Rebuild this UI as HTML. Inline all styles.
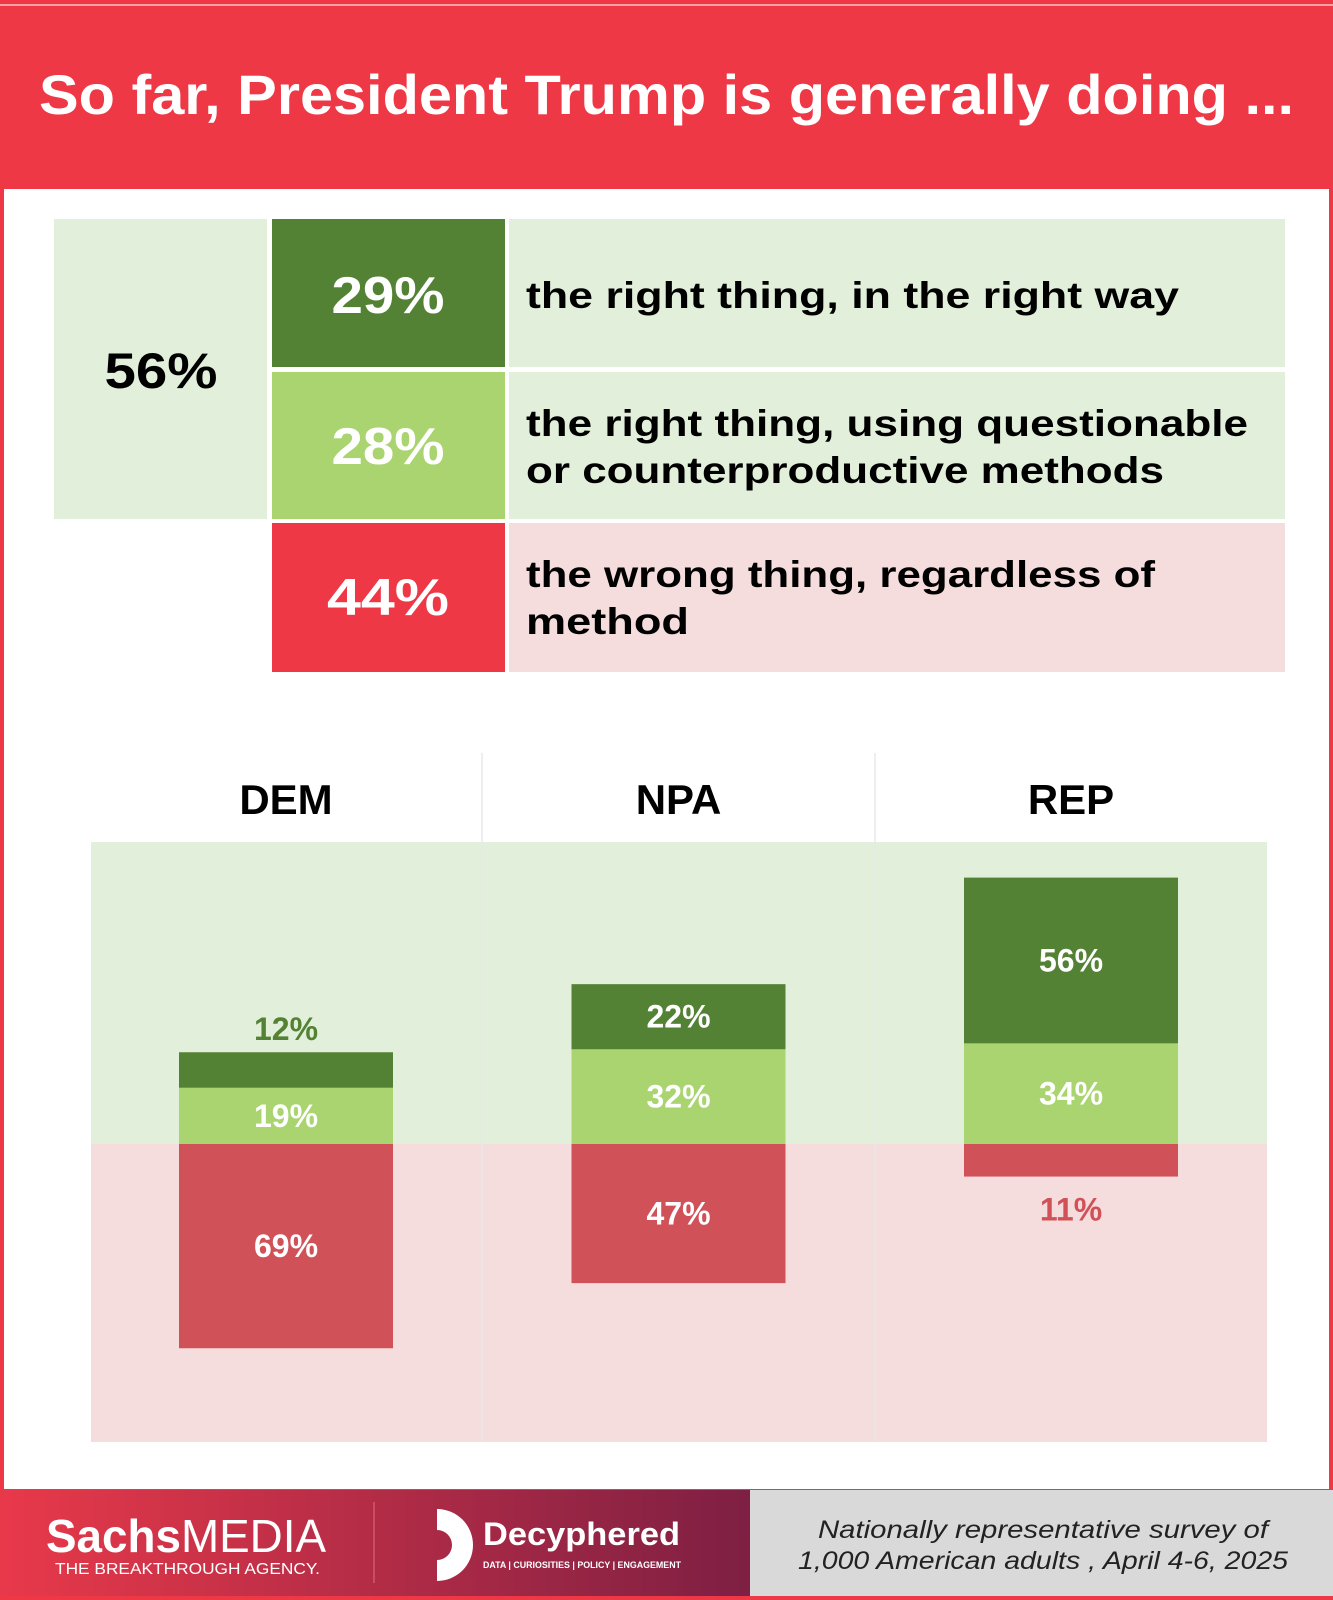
<!DOCTYPE html>
<html><head><meta charset="utf-8"><style>
html,body{margin:0;padding:0;background:#fff}
svg{display:block}
text{font-family:"Liberation Sans",sans-serif}
</style></head><body>
<svg id="chart" width="1333" height="1600" viewBox="0 0 1333 1600">
<rect x="0" y="0" width="1333" height="1600" fill="#ef3845"/>
<rect x="4" y="189" width="1325" height="1300" fill="#ffffff"/>
<rect x="0" y="4" width="1333" height="2" fill="#f7a0a6"/>
<text x="39" y="114" font-size="56" font-weight="bold" fill="#fff" textLength="1255" lengthAdjust="spacingAndGlyphs">So far, President Trump is generally doing ...</text>

<g>
<rect x="54" y="219" width="213" height="300" fill="#e2efda"/>
<text x="161" y="388" font-size="50" font-weight="bold" text-anchor="middle" fill="#000" textLength="113" lengthAdjust="spacingAndGlyphs">56%</text>
<rect x="272" y="219" width="233" height="148" fill="#548235"/>
<text x="388" y="313" font-size="52" font-weight="bold" text-anchor="middle" fill="#fff" textLength="113" lengthAdjust="spacingAndGlyphs">29%</text>
<rect x="509" y="219" width="776" height="148" fill="#e2efda"/>
<text x="526" y="308" font-size="37" font-weight="bold" fill="#000" textLength="653" lengthAdjust="spacingAndGlyphs">the right thing, in the right way</text>
<rect x="272" y="372" width="233" height="147" fill="#a9d46f"/>
<text x="388" y="464" font-size="52" font-weight="bold" text-anchor="middle" fill="#fff" textLength="113" lengthAdjust="spacingAndGlyphs">28%</text>
<rect x="509" y="372" width="776" height="147" fill="#e2efda"/>
<text x="526" y="436" font-size="37" font-weight="bold" fill="#000" textLength="722" lengthAdjust="spacingAndGlyphs">the right thing, using questionable</text>
<text x="526" y="483" font-size="37" font-weight="bold" fill="#000" textLength="638" lengthAdjust="spacingAndGlyphs">or counterproductive methods</text>
<rect x="272" y="523" width="233" height="149" fill="#ef3845"/>
<text x="388" y="615" font-size="52" font-weight="bold" text-anchor="middle" fill="#fff" textLength="122" lengthAdjust="spacingAndGlyphs">44%</text>
<rect x="509" y="523" width="776" height="149" fill="#f5dcdd"/>
<text x="526" y="587" font-size="37" font-weight="bold" fill="#000" textLength="629" lengthAdjust="spacingAndGlyphs">the wrong thing, regardless of</text>
<text x="526" y="634" font-size="37" font-weight="bold" fill="#000" textLength="163" lengthAdjust="spacingAndGlyphs">method</text>
</g>

<g id="plot">
<rect x="91" y="842" width="1176" height="302" fill="#e2efda"/>
<rect x="91" y="1144" width="1176" height="298" fill="#f5dcdd"/>
<line x1="482" y1="753" x2="482" y2="1442" stroke="#e8e8e8" stroke-width="1.5"/>
<line x1="875" y1="753" x2="875" y2="1442" stroke="#e8e8e8" stroke-width="1.5"/>
</g>

<g>
<defs><linearGradient id="fg" x1="0" x2="1" y1="0" y2="0"><stop offset="0" stop-color="#e8394a"/><stop offset="1" stop-color="#7e1f43"/></linearGradient></defs>
<rect x="0" y="1490" width="750" height="106" fill="url(#fg)"/>
<rect x="750" y="1490" width="583" height="106" fill="#d9d9d9"/>
<text x="46" y="1552" font-size="46" fill="#fff" font-family="Liberation Serif" font-weight="bold" textLength="280" lengthAdjust="spacingAndGlyphs">Sachs<tspan font-family="Liberation Sans" font-weight="normal">MEDIA</tspan></text>
<text x="55" y="1574" font-size="16" fill="#fff" textLength="265" lengthAdjust="spacingAndGlyphs">THE BREAKTHROUGH AGENCY.</text>
<line x1="374" y1="1502" x2="374" y2="1583" stroke="#e07080" stroke-width="1"/>
<path d="M437 1509 A36 36 0 0 1 437 1581 L437 1560 A15 15 0 0 0 437 1530 Z" fill="#fff"/>
<text x="483" y="1545" font-size="32" font-weight="bold" fill="#fff" textLength="197" lengthAdjust="spacingAndGlyphs">Decyphered</text>
<text x="483" y="1568" font-size="9" font-weight="bold" fill="#fff" textLength="198" lengthAdjust="spacingAndGlyphs">DATA | CURIOSITIES | POLICY | ENGAGEMENT</text>
<text x="1043" y="1538" font-size="25" font-style="italic" text-anchor="middle" fill="#222" textLength="450" lengthAdjust="spacingAndGlyphs">Nationally representative survey of</text>
<text x="1043" y="1569" font-size="25" font-style="italic" text-anchor="middle" fill="#222" textLength="490" lengthAdjust="spacingAndGlyphs">1,000 American adults , April 4-6, 2025</text>
</g>
</svg>
<script>
const parties = ["DEM", "NPA", "REP"];
const rightWay = [12, 22, 56];
const questionable = [19, 32, 34];
const wrong = [69, 47, 11];

const NS = "http://www.w3.org/2000/svg";
const plot = document.getElementById("plot");
const baseY = 1144, pxPer = 2.96, barW = 214;
function colX(i){ return 286 + i * 392.5; }
function yUp(v){ return baseY - v * pxPer; }
function yDown(v){ return baseY + v * pxPer; }
function mk(tag, attrs){ const e = document.createElementNS(NS, tag); for (const k in attrs) e.setAttribute(k, attrs[k]); plot.appendChild(e); return e; }
function label(x, y, txt, fill){
  const t = mk("text", {x: x, y: y, "font-size": 32, "font-weight": "bold", "text-anchor": "middle", fill: fill});
  t.textContent = txt;
  return t;
}
parties.forEach(function(p, i){
  const cx = colX(i), x0 = cx - barW / 2;
  const h = mk("text", {x: cx, y: 814, "font-size": 42, "font-weight": "bold", "text-anchor": "middle", fill: "#000"});
  h.textContent = p;
  
  

  const q = questionable[i], r = rightWay[i], w = wrong[i];
  const qb = mk("rect", {x: x0, y: yUp(q), width: barW, height: q * pxPer, fill: "#a9d46f"});
  
  
  const rb = mk("rect", {x: x0, y: yUp(q + r), width: barW, height: r * pxPer, fill: "#548235"});
  
  
  const wb = mk("rect", {x: x0, y: baseY, width: barW, height: w * pxPer, fill: "#d05258"});
  
  

  let t;
  t = label(cx, (yUp(q) + baseY) / 2 + 11, q + "%", "#fff");
  
  
  if (r >= 18) t = label(cx, (yUp(q + r) + yUp(q)) / 2 + 11, r + "%", "#fff");
  else t = label(cx, yUp(q + r) - 12, r + "%", "#548235");
  
  
  if (w >= 18) t = label(cx, (baseY + yDown(w)) / 2 + 11, w + "%", "#fff");
  else t = label(cx, yDown(w) + 44, w + "%", "#d05258");
  
  
});
</script>
</body></html>
